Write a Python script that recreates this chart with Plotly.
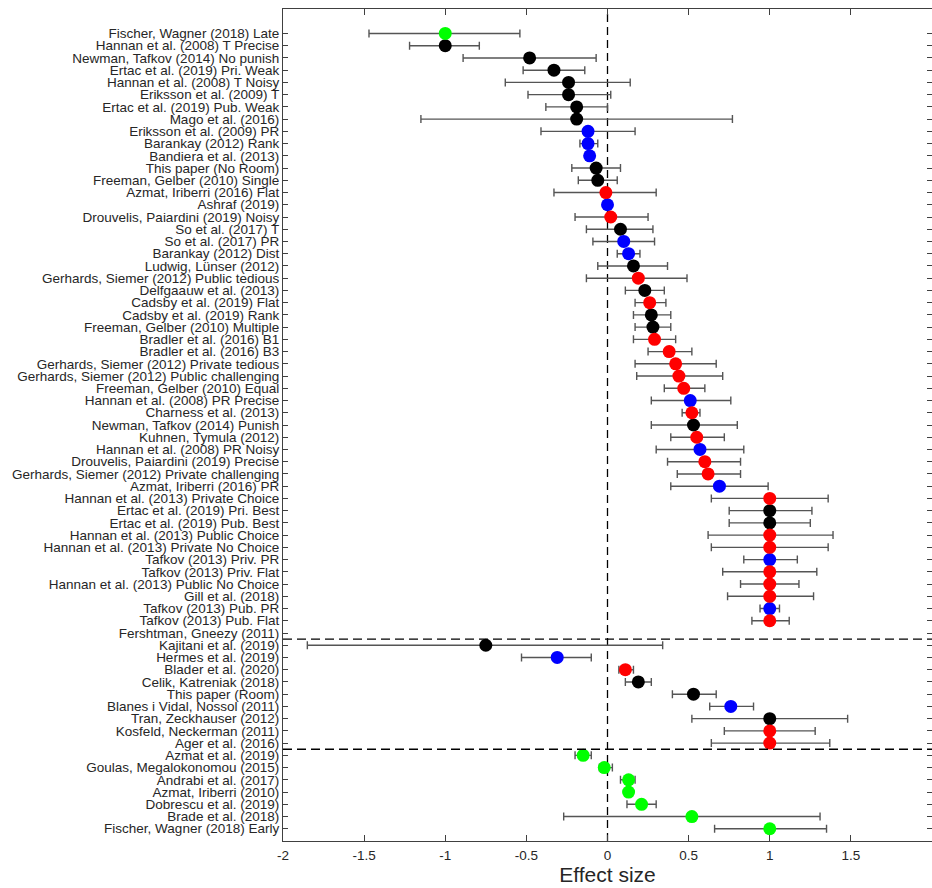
import plotly.graph_objects as go

labels = [
    "Fischer, Wagner (2018) Late", "Hannan et al. (2008) T Precise", "Newman, Tafkov (2014) No punish",
    "Ertac et al. (2019) Pri. Weak", "Hannan et al. (2008) T Noisy", "Eriksson et al. (2009) T",
    "Ertac et al. (2019) Pub. Weak", "Mago et al. (2016)", "Eriksson et al. (2009) PR",
    "Barankay (2012) Rank", "Bandiera et al. (2013)", "This paper (No Room)",
    "Freeman, Gelber (2010) Single", "Azmat, Iriberri (2016) Flat", "Ashraf (2019)",
    "Drouvelis, Paiardini (2019) Noisy", "So et al. (2017) T", "So et al. (2017) PR",
    "Barankay (2012) Dist", "Ludwig, Lünser (2012)", "Gerhards, Siemer (2012) Public tedious",
    "Delfgaauw et al. (2013)", "Cadsby et al. (2019) Flat", "Cadsby et al. (2019) Rank",
    "Freeman, Gelber (2010) Multiple", "Bradler et al. (2016) B1", "Bradler et al. (2016) B3",
    "Gerhards, Siemer (2012) Private tedious", "Gerhards, Siemer (2012) Public challenging",
    "Freeman, Gelber (2010) Equal", "Hannan et al. (2008) PR Precise", "Charness et al. (2013)",
    "Newman, Tafkov (2014) Punish", "Kuhnen, Tymula (2012)", "Hannan et al. (2008) PR Noisy",
    "Drouvelis, Paiardini (2019) Precise", "Gerhards, Siemer (2012) Private challenging",
    "Azmat, Iriberri (2016) PR", "Hannan et al. (2013) Private Choice", "Ertac et al. (2019) Pri. Best",
    "Ertac et al. (2019) Pub. Best", "Hannan et al. (2013) Public Choice",
    "Hannan et al. (2013) Private No Choice", "Tafkov (2013) Priv. PR", "Tafkov (2013) Priv. Flat",
    "Hannan et al. (2013) Public No Choice", "Gill et al. (2018)", "Tafkov (2013) Pub. PR",
    "Tafkov (2013) Pub. Flat", "Fershtman, Gneezy (2011)",
    "Kajitani et al. (2019)", "Hermes et al. (2019)", "Blader et al. (2020)",
    "Celik, Katreniak (2018)", "This paper (Room)", "Blanes i Vidal, Nossol (2011)",
    "Tran, Zeckhauser (2012)", "Kosfeld, Neckerman (2011)", "Ager et al. (2016)",
    "Azmat et al. (2019)", "Goulas, Megalokonomou (2015)", "Andrabi et al. (2017)",
    "Azmat, Iriberri (2010)", "Dobrescu et al. (2019)", "Brade et al. (2018)",
    "Fischer, Wagner (2018) Early",
]

effect = [
    -1.00, -1.00, -0.48, -0.33, -0.24, -0.24, -0.19, -0.19, -0.12, -0.12,
    -0.11, -0.07, -0.06, -0.01, 0.00, 0.02, 0.08, 0.10, 0.13, 0.16,
    0.19, 0.23, 0.26, 0.27, 0.28, 0.29, 0.38, 0.42, 0.44, 0.47,
    0.51, 0.52, 0.53, 0.55, 0.57, 0.60, 0.62, 0.69, 1.00, 1.00,
    1.00, 1.00, 1.00, 1.00, 1.00, 1.00, 1.00, 1.00, 1.00, None,
    -0.75, -0.31, 0.11, 0.19, 0.53, 0.76, 1.00, 1.00, 1.00,
    -0.15, -0.02, 0.13, 0.13, 0.21, 0.52, 1.00,
]

ci_low = [
    -1.47, -1.22, -0.89, -0.52, -0.63, -0.49, -0.38, -1.15, -0.41, -0.17,
    -0.13, -0.22, -0.18, -0.33, -0.01, -0.20, -0.13, -0.09, 0.06, -0.06,
    -0.13, 0.11, 0.17, 0.16, 0.17, 0.16, 0.25, 0.17, 0.18, 0.35,
    0.27, 0.46, 0.27, 0.39, 0.30, 0.37, 0.43, 0.39, 0.64, 0.75,
    0.75, 0.62, 0.64, 0.84, 0.71, 0.82, 0.74, 0.94, 0.89, None,
    -1.85, -0.53, 0.07, 0.11, 0.40, 0.63, 0.52, 0.72, 0.64,
    -0.20, -0.05, 0.08, 0.12, 0.12, -0.27, 0.66,
]

ci_high = [
    -0.54, -0.79, -0.07, -0.14, 0.14, 0.02, 0.00, 0.77, 0.17, -0.06,
    -0.09, 0.08, 0.06, 0.30, 0.01, 0.25, 0.28, 0.29, 0.20, 0.37,
    0.49, 0.35, 0.36, 0.39, 0.39, 0.42, 0.52, 0.67, 0.71, 0.60,
    0.76, 0.57, 0.80, 0.72, 0.84, 0.82, 0.82, 0.99, 1.36, 1.26,
    1.25, 1.39, 1.36, 1.17, 1.29, 1.18, 1.27, 1.06, 1.12, None,
    0.34, -0.10, 0.16, 0.27, 0.67, 0.90, 1.48, 1.28, 1.37,
    -0.10, 0.03, 0.17, 0.14, 0.30, 1.31, 1.35,
]

group = [
    "green", "black", "black", "black", "black", "black", "black", "black", "blue", "blue",
    "blue", "black", "black", "red", "blue", "red", "black", "blue", "blue", "black",
    "red", "black", "red", "black", "black", "red", "red", "red", "red", "red",
    "blue", "red", "black", "red", "blue", "red", "red", "blue", "red", "black",
    "black", "red", "red", "blue", "red", "red", "red", "blue", "red", None,
    "black", "blue", "red", "black", "black", "blue", "black", "red", "red",
    "green", "green", "green", "green", "green", "green", "green",
]

section_breaks = [50.5, 59.5]
x_ticks = [-2, -1.5, -1, -0.5, 0, 0.5, 1, 1.5, 2]

colors = {"black": "#000000", "blue": "#0000ff", "red": "#ff0000", "green": "#00ff00"}

rows = list(range(1, len(labels) + 1))

fig = go.Figure()

# error bars (drawn below markers)
err_plus = [None if e is None else h - e for e, h in zip(effect, ci_high)]
err_minus = [None if e is None else e - l for e, l in zip(effect, ci_low)]
fig.add_trace(go.Scatter(
    x=effect, y=rows, mode="markers",
    marker=dict(size=1, opacity=0),
    error_x=dict(type="data", symmetric=False, array=err_plus, arrayminus=err_minus,
                 color="#555555", thickness=1.4, width=4),
    hoverinfo="skip", showlegend=False,
))

for g, col in colors.items():
    xs = [e for e, gg in zip(effect, group) if gg == g]
    ys = [r for r, gg in zip(rows, group) if gg == g]
    fig.add_trace(go.Scatter(
        x=xs, y=ys, mode="markers",
        marker=dict(size=13, color=col, line=dict(width=0)),
        showlegend=False,
    ))

fig.add_shape(type="line", xref="x", yref="paper", x0=0, x1=0, y0=0, y1=1,
              line=dict(color="black", width=1.3, dash="8px,5px"), layer="below")
for yb in section_breaks:
    fig.add_shape(type="line", xref="paper", yref="y", x0=0, x1=1, y0=yb, y1=yb,
                  line=dict(color="black", width=1.3, dash="9px,5px"))

axis_col = "#404040"
fig.update_layout(
    width=932, height=888,
    margin=dict(l=283, r=0, t=9, b=47, autoexpand=False),
    paper_bgcolor="white", plot_bgcolor="white",
    hovermode=False,
    font=dict(family="Liberation Sans, Arial, sans-serif", color="#262626"),
    xaxis=dict(
        range=[-2, 2], tickvals=x_ticks, ticktext=[f"{v:g}" for v in x_ticks],
        automargin=False,
        showgrid=False, zeroline=False, showline=True, linecolor=axis_col, linewidth=1.2,
        mirror="ticks", ticks="inside", ticklen=6, tickcolor=axis_col, tickwidth=1,
        tickfont=dict(size=13.5, color="#262626"), ticklabelstandoff=2,
        title=dict(text="Effect size", font=dict(size=21, color="#262626"), standoff=4),
    ),
    yaxis=dict(
        range=[67, -1], tickvals=rows, ticktext=labels,
        automargin=False,
        showgrid=False, zeroline=False, showline=True, linecolor=axis_col, linewidth=1.2,
        mirror="ticks", ticks="inside", ticklen=5, tickcolor=axis_col, tickwidth=1,
        tickfont=dict(size=13.5, color="#262626"),
    ),
)

fig.write_html("out.html", config={"displayModeBar": False},
               post_script="document.body.style.margin='0';")
